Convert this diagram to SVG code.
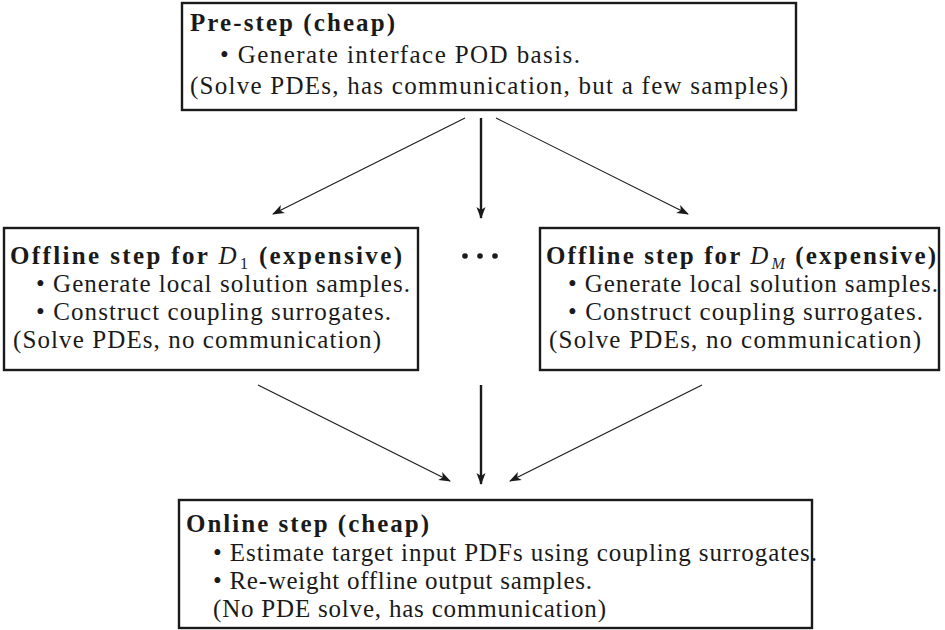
<svg xmlns="http://www.w3.org/2000/svg" width="945" height="630" viewBox="0 0 945 630">
<defs>
<style>
.box{fill:#fff;stroke:#1a1a1a;stroke-width:2.4}
text{font-family:"Liberation Serif","Times New Roman",serif;font-size:25px;fill:#1a1a1a}
.b{font-weight:bold}
.m{font-style:italic;font-weight:normal}
.sub{font-weight:normal;font-size:16px}
.thin{stroke:#1a1a1a;stroke-width:1.1;fill:none}
.thick{stroke:#1a1a1a;stroke-width:2.4;fill:none}
.dot{fill:#1a1a1a}
</style>
<marker id="ah" viewBox="0 0 12 10" refX="11" refY="5" markerWidth="12" markerHeight="10" markerUnits="userSpaceOnUse" orient="auto">
<path d="M0,0.5 L12,5 L0,9.5 L3,5 Z" fill="#1a1a1a"/>
</marker>
</defs>

<g id="prestep">
<rect class="box" x="182" y="3" width="614" height="107"/>
<text class="b" x="190" y="31" textLength="205" lengthAdjust="spacing">Pre-step (cheap)</text>
<text x="220" y="63" textLength="360" lengthAdjust="spacing">• Generate interface POD basis.</text>
<text x="190" y="94" textLength="598" lengthAdjust="spacing">(Solve PDEs, has communication, but a few samples)</text>
</g>

<g id="offline1">
<rect class="box" x="4" y="228" width="414" height="142"/>
<text class="b" x="10" y="264" textLength="392" lengthAdjust="spacing">Offline step for <tspan class="m">D</tspan><tspan class="sub" dx="1" baseline-shift="-5">1</tspan> (expensive)</text>
<text x="36" y="292" textLength="374" lengthAdjust="spacing">• Generate local solution samples.</text>
<text x="36" y="320" textLength="355" lengthAdjust="spacing">• Construct coupling surrogates.</text>
<text x="13" y="348" textLength="368" lengthAdjust="spacing">(Solve PDEs, no communication)</text>
</g>

<g id="dots">
<circle class="dot" cx="465" cy="256" r="2.8"/>
<circle class="dot" cx="480" cy="256" r="2.8"/>
<circle class="dot" cx="495" cy="256" r="2.8"/>
</g>

<g id="offlineM">
<rect class="box" x="540" y="228" width="399" height="142"/>
<text class="b" x="546" y="264" textLength="390" lengthAdjust="spacing">Offline step for <tspan class="m">D</tspan><tspan class="m sub" dx="1" baseline-shift="-5">M</tspan> (expensive)</text>
<text x="568" y="292" textLength="370" lengthAdjust="spacing">• Generate local solution samples.</text>
<text x="568" y="320" textLength="355" lengthAdjust="spacing">• Construct coupling surrogates.</text>
<text x="549" y="348" textLength="372" lengthAdjust="spacing">(Solve PDEs, no communication)</text>
</g>

<g id="online">
<rect class="box" x="179" y="500" width="633" height="128"/>
<text class="b" x="186" y="532" textLength="243" lengthAdjust="spacing">Online step (cheap)</text>
<text x="213" y="561" textLength="604" lengthAdjust="spacing">• Estimate target input PDFs using coupling surrogates.</text>
<text x="213" y="589" textLength="379" lengthAdjust="spacing">• Re-weight offline output samples.</text>
<text x="213" y="617" textLength="393" lengthAdjust="spacing">(No PDE solve, has communication)</text>
</g>

<g id="connectors">
<line class="thin" x1="465" y1="118" x2="273" y2="214" marker-end="url(#ah)"/>
<line class="thick" x1="481" y1="118" x2="481" y2="218" marker-end="url(#ah)"/>
<line class="thin" x1="496" y1="118" x2="688" y2="214" marker-end="url(#ah)"/>
<line class="thin" x1="258" y1="385" x2="450" y2="481" marker-end="url(#ah)"/>
<line class="thick" x1="481" y1="385" x2="481" y2="484" marker-end="url(#ah)"/>
<line class="thin" x1="702" y1="385" x2="510" y2="481" marker-end="url(#ah)"/>
</g>
</svg>
